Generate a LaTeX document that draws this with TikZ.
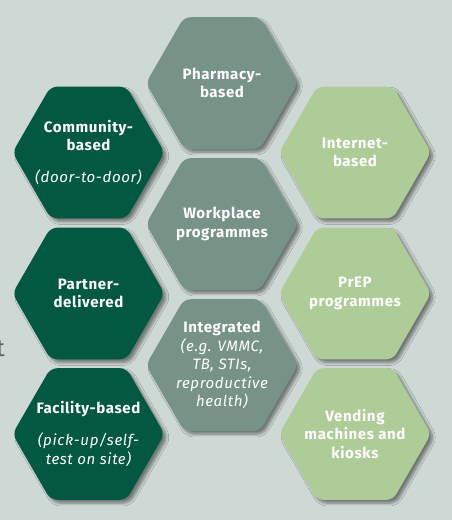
\documentclass[tikz,border=0pt]{standalone}
\usepackage{fontspec}
\setmainfont{Fira Sans}[LetterSpace=4]
\newfontfamily\fragfont{Fira Sans}
\usetikzlibrary{shapes.geometric,shadows.blur}

\definecolor{bgGrey}{RGB}{206,216,212}
\definecolor{hexDark}{RGB}{3,88,66}
\definecolor{hexMid}{RGB}{119,147,135}
\definecolor{hexLight}{RGB}{174,204,151}
\definecolor{fragGrey}{RGB}{95,98,97}

\tikzset{
  hexa/.style={regular polygon, regular polygon sides=6, minimum size=114pt,
    inner sep=-14pt, rounded corners=5pt, text=white, align=center,
    font=\bfseries\fontsize{11.3}{13.9}\selectfont,
    blur shadow={shadow xshift=2.5pt, shadow yshift=-2.5pt, shadow blur steps=6, shadow opacity=45}},
  hexdark/.style={hexa, fill=hexDark},
  hexmid/.style={hexa, fill=hexMid},
  hexlight/.style={hexa, fill=hexLight}
}

\begin{document}
\begin{tikzpicture}[x=0.75pt,y=0.75pt,yscale=-1,xscale=1]
%Background
\useasboundingbox (0,0) rectangle (452,520);
\fill [bgGrey] (0,0) rectangle (452,520);

% Text Node (cut-off fragment)
\node [anchor=base east, inner sep=0pt, text=fragGrey, font=\fragfont\fontsize{18}{20}\selectfont] (frag) at (5,356) {t};

%Shape: Hexagon, left column
\node [hexdark] (community) at (88.5,152.5) {Community-\\based\\[10pt]{\mdseries\itshape (door-to-door)}};
\node [hexdark] (partner) at (88.5,293.5) {Partner-\\delivered};
\node [hexdark] (facility) at (88.5,434) {Facility-based\\[10pt]{\mdseries\itshape (pick-up/self-}\\{\mdseries\itshape test on site)}};

%Shape: Hexagon, middle column
\node [hexmid] (pharmacy) at (222,83) {Pharmacy-\\based};
\node [hexmid] (workplace) at (222,224) {Workplace\\programmes};
\node [hexmid] (integrated) at (222,365) {Integrated\\{\mdseries\itshape (e.g. VMMC,}\\{\mdseries\itshape TB, STIs,}\\{\mdseries\itshape reproductive}\\{\mdseries\itshape health)}};

%Shape: Hexagon, right column
\node [hexlight] (internet) at (355,152.5) {Internet-\\based};
\node [hexlight] (prep) at (355,293.5) {PrEP\\programmes};
\node [hexlight] (vending) at (355,434) {Vending\\machines and\\kiosks};

\end{tikzpicture}
\end{document}
